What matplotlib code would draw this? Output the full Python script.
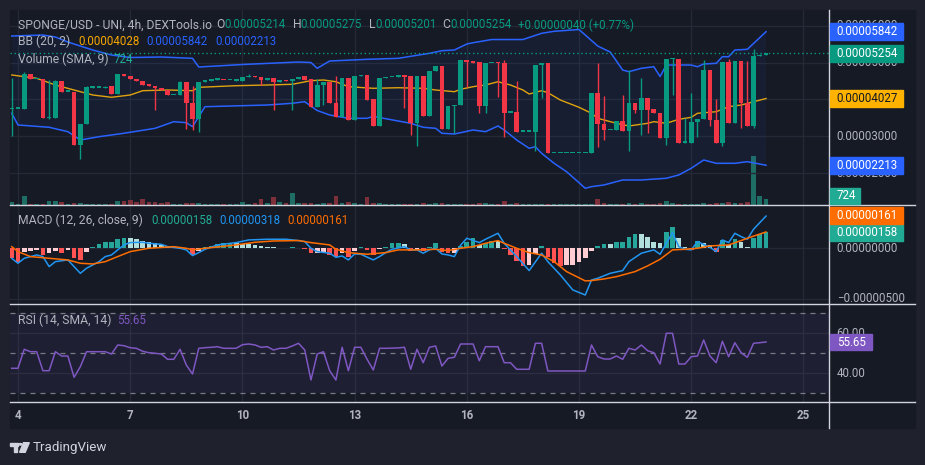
import numpy as np
import matplotlib
matplotlib.use("Agg")
import matplotlib.pyplot as plt
from matplotlib.patches import Rectangle, Polygon, Circle
from matplotlib.lines import Line2D

plt.rcParams['font.family'] = ['Roboto', 'DejaVu Sans']

# ---------------- data (prices in units of 1e-8 USD) ----------------
bars = list(range(-1, 121))          # 4h bars, bar 0 = day 4 00:00
day_numbers = [4, 7, 10, 13, 16, 19, 22, 25]
bars_per_day = 6

opens = [3734, 3745, 3745, 4693, 4555, 4557, 3484, 3500, 4503, 4212,
         4212, 2764, 3326, 4320, 4325, 4312, 4375, 4149, 4693, 4638,
         4557, 4503, 4420, 4380, 4320, 4258, 4122, 4125, 4483, 3897,
         3470, 4483, 4510, 4540, 4540, 4525, 4515, 4503, 4600, 4630,
         4611, 4540, 4576, 4483, 4520, 4510, 4560, 4638, 4557, 3804,
         4394, 4483, 3897, 3533, 4576, 3443, 4640, 4666, 4013, 3280,
         4580, 4603, 4620, 4666, 4638, 3370, 4638, 3560, 4782, 4910,
         3190, 3823, 3864, 5073, 5046, 5027, 3823, 4983, 4995, 4983,
         3641, 3652, 3125, 3125, 3125, 4937, 5000, 2538, 2538, 2538,
         2538, 2538, 2538, 2538, 4185, 3326, 3171, 3171, 3416, 3152,
         3897, 3715, 4032, 3734, 3641, 2962, 5092, 5110, 2826, 2826,
         3397, 3470, 4801, 3443, 2826, 5027, 3370, 5046, 3897, 3280,
         5182, 5214]
closes = [3745, 3745, 4693, 4549, 4565, 3484, 3500, 4503, 4212, 4212,
          2764, 3326, 4348, 4325, 4325, 4348, 4149, 4693, 4638, 4557,
          4503, 4407, 4380, 4320, 4258, 4122, 4125, 4483, 3897, 3470,
          4483, 4530, 4545, 4555, 4530, 4535, 4550, 4603, 4640, 4600,
          4530, 4560, 4483, 4520, 4500, 4560, 4580, 4530, 3804, 4394,
          4483, 3897, 3533, 4576, 3443, 4638, 4666, 3986, 3280, 4576,
          4603, 4620, 4666, 4620, 3370, 4638, 3560, 4782, 4910, 3190,
          3823, 3864, 5073, 5027, 4983, 3823, 4983, 4990, 4983, 3641,
          3645, 3125, 3125, 3125, 4937, 5000, 2538, 2538, 2538, 2538,
          2538, 2538, 2538, 4185, 3326, 3171, 3171, 3416, 3152, 3897,
          3715, 4032, 3715, 3641, 2962, 5092, 5110, 2826, 2826, 3397,
          3470, 4801, 3443, 2826, 5027, 3370, 5046, 3897, 3280, 5182,
          5209, 5254]
highs = [4576, 3745, 4755, 4693, 4565, 4565, 4530, 4530, 4503, 4212,
         4212, 3326, 4367, 4330, 4325, 4360, 4380, 4700, 4693, 4638,
         4557, 4503, 4420, 4380, 4320, 4258, 4125, 4490, 4483, 4367,
         4483, 4530, 4545, 4555, 4540, 4535, 4550, 4610, 4693, 4630,
         4611, 4560, 4576, 4520, 4520, 4560, 4580, 4638, 4557, 4549,
         4483, 4483, 4638, 4576, 4576, 4638, 4666, 4666, 4013, 4576,
         4603, 4620, 4666, 4666, 4638, 4638, 4638, 4782, 4910, 4910,
         3823, 3864, 5073, 5073, 5046, 5027, 4983, 4990, 5010, 5073,
         3645, 4503, 3125, 3125, 4937, 5000, 5000, 2538, 2538, 2538,
         2538, 2538, 2538, 4185, 4983, 4095, 3171, 3416, 4122, 4801,
         3897, 4576, 4032, 3734, 3641, 5092, 5120, 5110, 3489, 4185,
         3470, 5073, 4801, 4013, 5027, 5092, 5046, 5046, 5046, 5364,
         5230, 5275]
lows = [3008, 3745, 3745, 4549, 4555, 3484, 3470, 3490, 4212, 4212,
        2764, 2375, 3326, 4320, 4325, 4312, 4149, 4149, 4638, 4557,
        4503, 4407, 4380, 3715, 4258, 4122, 4122, 4125, 3190, 3171,
        3125, 4483, 4510, 4540, 4530, 4525, 4515, 4503, 4600, 4600,
        4394, 4540, 3715, 4483, 4500, 3715, 4560, 4530, 3804, 3804,
        3850, 3897, 3533, 3533, 3443, 3443, 4640, 3986, 3280, 3280,
        4580, 4603, 4620, 3777, 3035, 2736, 3560, 3560, 4782, 3190,
        3190, 3098, 3864, 4348, 4983, 3641, 3641, 4983, 4076, 2989,
        3641, 3125, 3125, 3125, 2609, 4041, 2538, 2538, 2538, 2538,
        2538, 2538, 2538, 2538, 2717, 2899, 3171, 3171, 3152, 2609,
        3641, 3035, 3082, 3641, 2962, 2764, 4122, 2826, 2826, 2826,
        2989, 3470, 3280, 2826, 2736, 3370, 3370, 3217, 3280, 3217,
        5182, 5201]
volumes = [240, 80, 760, 120, 120, 120, 320, 320, 280, 120,
           160, 160, 120, 80, 80, 120, 120, 320, 320, 400,
           216, 480, 216, 264, 160, 240, 80, 80, 200, 200,
           160, 120, 120, 120, 120, 120, 120, 240, 120, 160,
           480, 160, 616, 240, 200, 936, 160, 160, 200, 120,
           160, 160, 744, 200, 240, 160, 120, 616, 160, 160,
           80, 80, 120, 80, 120, 120, 160, 120, 200, 160,
           120, 120, 120, 120, 120, 200, 160, 80, 120, 320,
           80, 160, 80, 80, 120, 120, 120, 80, 80, 80,
           80, 80, 80, 120, 480, 200, 80, 120, 120, 200,
           120, 160, 120, 120, 160, 320, 160, 120, 80, 120,
           120, 200, 120, 160, 200, 240, 200, 200, 280, 3950,
           760, 480]

bb_upper_bars = [-1, 4, 6, 8, 12, 15, 18, 23, 28, 29, 36, 45, 47, 48, 50, 56, 61, 66, 68, 70,
                 72, 73, 76, 81, 84, 86, 90, 93, 95, 97, 98, 100, 102, 103, 104, 108, 109, 110, 112, 113,
                 114, 115, 117, 120]
bb_upper = [5725, 5752, 5698, 5562, 5345, 5209, 5141, 5155, 5119, 4883, 4951, 5019, 5005, 4848, 5046, 5092, 5119, 5255, 5326, 5345,
            5508, 5543, 5630, 5630, 5799, 5853, 5902, 5453, 5290, 4801, 4755, 4848, 4891, 4625, 4937, 4937, 4891, 4964, 4983, 5163,
            5163, 5345, 5364, 5842]
bb_basis_bars = [-1, 3, 6, 9, 12, 15, 18, 20, 24, 28, 29, 35, 40, 44, 47, 49, 51, 53, 57, 61,
                 65, 67, 70, 71, 73, 75, 77, 79, 81, 82, 84, 85, 87, 90, 92, 93, 96, 98, 101, 102,
                 104, 106, 108, 109, 112, 114, 116, 120]
bb_basis = [4666, 4576, 4394, 4258, 4122, 4060, 4122, 4239, 4258, 4239, 4331, 4375, 4394, 4413, 4511, 4530, 4483, 4348, 4304, 4320,
            4304, 4258, 4212, 4277, 4348, 4394, 4483, 4394, 4258, 4149, 4239, 4185, 3986, 3788, 3625, 3489, 3353, 3280, 3353, 3397,
            3353, 3462, 3516, 3625, 3668, 3804, 3850, 4027]
bb_lower_bars = [-1, 0, 5, 8, 10, 13, 17, 22, 25, 27, 28, 30, 40, 44, 46, 48, 50, 53, 56, 57,
                 63, 65, 67, 68, 70, 71, 73, 75, 77, 78, 80, 82, 83, 84, 86, 88, 90, 91, 92, 94,
                 97, 100, 104, 106, 108, 110, 112, 115, 117, 120]
bb_lower = [3625, 3307, 3245, 3125, 2899, 2989, 3082, 3217, 3397, 3370, 3261, 3804, 3850, 3897, 3940, 3700, 3579, 3489, 3489, 3540,
            3353, 3245, 3217, 3082, 3062, 3098, 3171, 3125, 3280, 3171, 2899, 2674, 2717, 2538, 2266, 2038, 1739, 1587, 1631, 1677,
            1813, 1813, 1859, 1949, 2131, 2356, 2266, 2266, 2310, 2213]
bb_basis_legend = 4028
vol_sma = 724

# MACD values in units of 1e-8
macd_hist = [-99, -132, -33, -23, -16, -66, -43, -30, -45, -16, -99, -115, -33,
             16, 40, 59, 66, 89, 105, 105, 89, 76, 66, 49, 33, 23, 16,
             -5, -10, -66, -23, 16, 23, 43, 49, 56, 49, 43, 43, 33, 26, 16, 10, 7, 7, 10, 7,
             -10, -49, -43, -33, -66, -82, -49, -89, -23, 16, -16, -66, -10, 16, 49, 56, 40, -23, -16, -23, 16, 56, -33, -49, -49, 23,
             66, 99, 33, 50, 75, 75, -5, -66, -125, -175, -165, -56, 26, -82, -142, -175, -165, -165, -132, -99, -23,
             23, 40, 40, 59, 66, 109, 142, 138, 115, 66, 56, 158, 214, 99, 16, -16, 76, 49, 33, -33, 82, 33, 89, 66, 16, 99, 142, 158]
macd_bars = [-1, 0, 1, 3, 4, 5, 6, 8, 9, 10, 11, 13, 14, 15, 16, 17, 18, 20, 21, 23,
             24, 26, 27, 28, 29, 30, 32, 35, 37, 40, 43, 45, 46, 47, 48, 50, 51, 52, 53, 54,
             55, 57, 58, 59, 60, 62, 63, 64, 65, 66, 67, 68, 69, 70, 71, 72, 74, 75, 77, 78,
             80, 82, 84, 85, 87, 89, 91, 92, 93, 95, 97, 98, 100, 102, 103, 105, 106, 107, 108, 109,
             111, 112, 113, 114, 115, 116, 117, 118, 120]
macd_line = [-99, -148, -99, -66, -82, -181, -132, -115, -181, -247, -197, -132, -82, -66, -16, 33, 56, 59, 49, 39,
             16, 0, -16, -72, -43, -10, 33, 56, 82, 89, 89, 76, 66, 0, -33, -49, -89, -76, -115, -56,
             -59, -115, -82, -43, -10, 16, -16, -16, -49, -16, 0, -56, -66, -82, 30, 99, 56, 89, 148, 49,
             -82, -220, -49, -132, -263, -411, -461, -313, -296, -247, -220, -132, -49, -16, -59, 155, 16, -10, -16, 66,
             10, -33, 82, 56, 148, 115, 89, 188, 318]
signal_bars = [-1, 0, 2, 5, 8, 10, 12, 14, 16, 18, 21, 25, 27, 28, 30, 35, 38, 41, 45, 47,
               50, 51, 53, 56, 59, 61, 64, 67, 69, 71, 73, 75, 77, 78, 80, 82, 84, 86, 88, 91,
               92, 94, 96, 99, 101, 103, 105, 107, 109, 111, 114, 116, 117, 120]
signal_line = [16, -33, -82, -99, -115, -148, -155, -132, -82, -33, 0, 16, 0, -16, 0, 33, 59, 72, 76, 56,
               33, -10, -43, -59, -43, -16, -16, -10, -23, 0, 16, 49, 76, 49, 0, -43, -66, -132, -230, -322,
               -319, -303, -280, -230, -174, -109, -16, -10, 0, 23, 33, 76, 99, 161]

rsi = [42.5, 42.5, 52, 50.8, 50.8, 41.3, 41.3, 50.8, 48.65, 48.65,
       38, 43.3, 50.8, 50.8, 50.8, 50.8, 49.65, 54.15, 53.8, 52.8,
       52.5, 51, 50.3, 50, 49.65, 47, 47, 52, 44.15, 39.65,
       52.5, 52.8, 53, 53.3, 52.5, 52.5, 52.5, 54.3, 54.65, 54.2,
       53, 53.3, 51.65, 52.5, 52.5, 53.65, 55, 51.65, 36.65, 49.65,
       50.8, 41.3, 36.65, 53, 41.3, 53, 53, 47, 41.65, 52.5,
       52.5, 52.6, 52.7, 53, 42, 52, 45.3, 53, 53.65, 43.65,
       47.5, 48, 54.65, 54.65, 54.65, 46.3, 53.3, 53.3, 53.3, 45.3,
       45.3, 42, 42, 42, 55, 55, 41.15, 41.15, 41.15, 41.15,
       41.15, 41.15, 41.15, 54.15, 48.3, 47.15, 47.15, 48.65, 47, 52.5,
       51.65, 54.15, 51.3, 50.3, 44.65, 60, 60, 44.65, 44.65, 48.3,
       48.65, 56.65, 48.65, 45.3, 56, 48.3, 55.3, 50.3, 48, 55,
       55.3, 55.65]

# ---------------- style ----------------
W, H = 925, 465
FRAME = '#1f222d'
BG = '#161a25'
GRID = '#252936'
SEP = '#d1d4dc'
TXT = '#b2b5be'
UP = '#089981'
DOWN = '#f23645'
BLUE = '#2962ff'
FS = 8.3      # numbers
FSL = 8.7     # legend labels

fig = plt.figure(figsize=(W / 100, H / 100), dpi=100, facecolor=FRAME)


def fx(x):
    return x / W


def fy(y):
    return 1 - y / H


fig.add_artist(Rectangle((fx(10), fy(428)), fx(915) - fx(10), fy(10) - fy(428),
                         transform=fig.transFigure, color=BG, zorder=0))

PL, PR = 10, 829
XL, XR = -1.28, 130.1


def pane(top, bottom):
    ax = fig.add_axes([fx(PL), fy(bottom), fx(PR) - fx(PL), fy(top) - fy(bottom)])
    ax.set_facecolor(BG)
    for s in ax.spines.values():
        s.set_visible(False)
    ax.tick_params(left=False, bottom=False, right=False, labelleft=False, labelbottom=False, labelright=False)
    ax.set_xlim(XL, XR)
    return ax


ax_vol = pane(10, 205)
ax1 = pane(10, 205)
ax2 = pane(205, 304)
ax3 = pane(304, 402)
ax1.patch.set_visible(False)
ax_vol.set_ylim(0, 15600)
ax1.set_ylim(1133, 6432)
ax2.set_ylim(-550, 427)
ax3.set_ylim(25.65, 74.65)

tick_pos = [(d - day_numbers[0]) * bars_per_day for d in day_numbers]
for ax in (ax_vol, ax2, ax3):
    for p in tick_pos:
        ax.axvline(p, color=GRID, lw=1, zorder=0)
for v in (2000, 3000, 4000, 5000, 6000):
    ax1.axhline(v, color=GRID, lw=1, zorder=0)
for v in (0, -500):
    ax2.axhline(v, color=GRID, lw=1, zorder=0)
for v in (40, 60):
    ax3.axhline(v, color=GRID, lw=1, zorder=0)

x = np.array(bars)
o = np.array(opens, float)
c = np.array(closes, float)
hi = np.array(highs, float)
lo = np.array(lows, float)
up = c >= o
ccol = np.where(up, UP, DOWN)

# volume
vcol = np.where(up, '#1f6e66', '#7d3039')
ax_vol.bar(x, volumes, width=0.75, color=vcol, linewidth=0, zorder=1)

# bollinger
poly_x = np.concatenate([bb_upper_bars, bb_lower_bars[::-1]])
poly_y = np.concatenate([bb_upper, bb_lower[::-1]])
ax1.fill(poly_x, poly_y, color='#2962ff', alpha=0.06, lw=0, zorder=1)
ax1.plot(bb_upper_bars, bb_upper, color=BLUE, lw=1.1, zorder=2)
ax1.plot(bb_lower_bars, bb_lower, color=BLUE, lw=1.1, zorder=2)
ax1.plot(bb_basis_bars, bb_basis, color='#e0a310', lw=1.0, zorder=2)

# candles
ax1.vlines(x, lo, hi, colors=ccol, lw=1, zorder=3)
body_lo = np.minimum(o, c)
body_h = np.maximum(np.abs(c - o), 38)
ax1.bar(x, body_h, bottom=body_lo, width=0.75, color=ccol, linewidth=0, zorder=4)
ax1.axhline(closes[-1], color=UP, lw=1, ls=(0, (1, 2)), zorder=2)

# MACD
hist = macd_hist
hcol = []
for i, h in enumerate(hist):
    prev = hist[i - 1] if i > 0 else 0
    if h >= 0:
        hcol.append('#26a69a' if h > prev else '#b2dfdb')
    else:
        hcol.append('#ff5252' if h < prev else '#ffcdd2')
ax2.bar(x, hist, width=0.75, color=hcol, linewidth=0, zorder=2)
ax2.plot(macd_bars, macd_line, color='#2196f3', lw=1.1, zorder=3)
ax2.plot(signal_bars, signal_line, color='#ff6d00', lw=1.1, zorder=3)

# RSI
ax3.axhspan(30, 70, color='#7e57c2', alpha=0.09, lw=0, zorder=1)
for v in (70, 50, 30):
    ax3.axhline(v, color='#787b86', lw=0.9, ls=(0, (4, 4)), zorder=2)
ax3.plot(x, rsi, color='#7e57c2', lw=1.1, zorder=3)

# separators
for yy in (205, 304, 402):
    fig.add_artist(Line2D([fx(10), fx(915)], [fy(yy), fy(yy)], transform=fig.transFigure, color=SEP, lw=1, zorder=3))
fig.add_artist(Line2D([fx(829), fx(829)], [fy(10), fy(428)], transform=fig.transFigure, color=SEP, lw=1, zorder=3))


def ypix(ax, v):
    return H - ax.transData.transform((0, v))[1]


def scale_text(ypx, s, color=TXT):
    fig.text(fx(836.7), fy(ypx), s, color=color, fontsize=FS, ha='left', va='center', zorder=6)


def scale_box(ypx, s, bg, fg='white', right=903.3):
    fig.add_artist(Rectangle((fx(829.5), fy(ypx + 8.3)), fx(right) - fx(829.5), 16.6 / H,
                             transform=fig.transFigure, color=bg, zorder=7))
    fig.text(fx(836.7), fy(ypx), s, color=fg, fontsize=FS, ha='left', va='center', zorder=8)


for v in (2000, 3000, 4000, 5000, 6000):
    scale_text(ypix(ax1, v), f"{v * 1e-8:.8f}")
scale_box(ypix(ax1, bb_upper[-1]), f"{bb_upper[-1] * 1e-8:.8f}", BLUE)
scale_box(ypix(ax1, closes[-1]), f"{closes[-1] * 1e-8:.8f}", UP)
scale_box(ypix(ax1, bb_basis[-1]), f"{bb_basis[-1] * 1e-8:.8f}", '#ffb300', fg='#131722')
scale_box(ypix(ax1, bb_lower[-1]), f"{bb_lower[-1] * 1e-8:.8f}", BLUE)
scale_box(ypix(ax_vol, vol_sma), str(vol_sma), '#22ab94', right=860)

scale_text(ypix(ax2, 0), "0.00000000")
scale_text(ypix(ax2, -500), "\u22120.00000500")
y158 = ypix(ax2, macd_hist[-1])
scale_box(y158, f"{macd_hist[-1] * 1e-8:.8f}", '#22ab94')
scale_box(y158 - 17, f"{signal_line[-1] * 1e-8:.8f}", '#ff6d00')

scale_text(ypix(ax3, 60), "60.00")
scale_text(ypix(ax3, 40), "40.00")
scale_box(ypix(ax3, rsi[-1]), f"{rsi[-1]:.2f}", '#7e57c2', right=872)

# time axis labels
for d, p in zip(day_numbers, tick_pos):
    xp = ax3.transData.transform((p, 0))[0]
    fig.text(xp / W, fy(415.7), str(d), color=TXT, fontsize=FS, ha='center', va='center', fontweight='bold')


# legends
def seg(xp, yp, s, color=TXT, size=FS):
    fig.text(fx(xp), fy(yp), s, color=color, fontsize=size, ha='left', va='center', zorder=6)


seg(18.3, 25, "SPONGE/USD - UNI, 4h, DEXTools.io", size=FSL)
for lab, xl, val, xv in (("O", 216.7, opens[-1], 224), ("H", 292.7, highs[-1], 300),
                         ("L", 369.3, lows[-1], 375.5), ("C", 442.7, closes[-1], 450)):
    seg(xl, 25, lab, size=FSL)
    seg(xv, 25, f"{val * 1e-8:.8f}", UP)
seg(518.3, 25, "+0.00000040 (+0.77%)", UP)

seg(18.3, 41.7, "BB (20, 2)", size=FSL)
seg(78.3, 41.7, f"{bb_basis_legend * 1e-8:.8f}", '#f7a600')
seg(146.7, 41.7, f"{bb_upper[-1] * 1e-8:.8f}", BLUE)
seg(215, 41.7, f"{bb_lower[-1] * 1e-8:.8f}", BLUE)

seg(18.3, 59, "Volume (SMA, 9)", size=FSL)
seg(113.3, 59, str(vol_sma), '#22ab94')

seg(18.3, 220.7, "MACD (12, 26, close, 9)", size=FSL)
seg(151.7, 220.7, f"{macd_hist[-1] * 1e-8:.8f}", '#22ab94')
seg(219, 220.7, f"{macd_line[-1] * 1e-8:.8f}", '#2196f3')
seg(287.3, 220.7, f"{signal_line[-1] * 1e-8:.8f}", '#ff6d00')

seg(18.3, 320, "RSI (14, SMA, 14)", size=FSL)
seg(116.7, 320, f"{rsi[-1]:.2f}", '#7e57c2')

# TradingView logo
LOGO = '#d1d4dc'


def P(pts):
    return [(fx(a), fy(b)) for a, b in pts]


fig.add_artist(Polygon(P([(10, 442.7), (18.3, 442.7), (18.3, 445.5), (17.0, 445.5), (17.0, 452.3),
                          (13.8, 452.3), (13.8, 445.5), (10, 445.5)]), closed=True,
                       transform=fig.transFigure, color=LOGO, zorder=6))
fig.add_artist(Polygon(P([(23.5, 442.7), (29.3, 442.7), (25.2, 452.3), (19.6, 452.3)]), closed=True,
                       transform=fig.transFigure, color=LOGO, zorder=6))
fig.add_artist(Circle((fx(20.4), fy(444.3)), 1.5 / W, transform=fig.transFigure, color=LOGO, zorder=6))
fig.text(fx(32.3), fy(447.5), "TradingView", color=LOGO, fontsize=9.6, ha='left', va='center')

fig.savefig("out.png", dpi=100, facecolor=FRAME)
